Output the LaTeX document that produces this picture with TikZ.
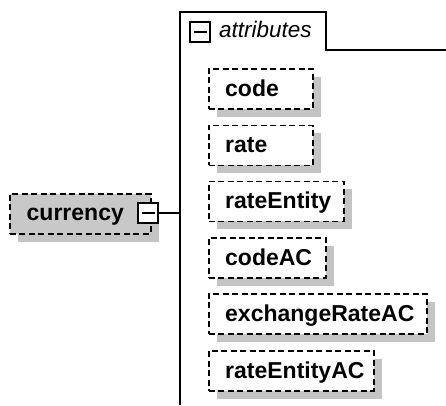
\documentclass[tikz,border=0pt]{standalone}
\usepackage{fontspec}
\setmainfont{Liberation Sans}
\usetikzlibrary{calc,shadows}
\definecolor{shgray}{RGB}{196,196,196}
\definecolor{boxgray}{RGB}{200,200,200}
\begin{document}
\begin{tikzpicture}[x=1pt,y=-1pt,
  dashbox/.style={draw=black, line width=1.9pt, dash pattern=on 6pt off 3.5pt,
    rectangle, inner sep=0pt, minimum height=40pt, anchor=north west, fill=white,
    general shadow={fill=shgray, shadow xshift=8pt, shadow yshift=-8pt}},
  lbl/.style={font=\fontsize{23}{27}\selectfont\bfseries, inner sep=0pt, anchor=base west},
  minusbox/.style={draw=black, fill=white, line width=1.7pt, rectangle, inner sep=0pt, minimum size=20pt},
  minussign/.style={line width=1.8pt},
  frameline/.style={line width=1.6pt}
]
\useasboundingbox (0,0) rectangle (446,405);

% attributes frame
\coordinate (fbot) at (180,405);
\coordinate (ftl) at (180,12);
\coordinate (ftr) at (326,12);
\coordinate (fbr) at (326,50);
\coordinate (fend) at (446,50);
\draw[frameline] (fbot) -- (ftl) -- (ftr) -- (fbr) -- (fend);
\node[minusbox] (am) at (200,32) {};
\draw[minussign] ($(am.center)+(-6.5,0)$) -- ($(am.center)+(6.5,0)$);
\node[font=\fontsize{22.5}{27}\selectfont\itshape, inner sep=0pt, anchor=base west] (attrt) at (219,37.5) {attributes};

% currency element
\node[dashbox, fill=boxgray, minimum width=141pt] (cur) at (9,193) {};
\node[lbl] (curt) at ($(cur.west)+(17.5,7)$) {currency};
\node[minusbox] (cm) at (148,213) {};
\draw[minussign] ($(cm.center)+(-6.5,0)$) -- ($(cm.center)+(6.5,0)$);
\coordinate (fj) at (180,213);
\draw[frameline] (cm.east) -- (fj);

% attribute boxes
\node[dashbox, minimum width=104pt] (code) at (208,68) {};
\node[lbl] (codet) at ($(code.west)+(17,7.5)$) {code};
\node[dashbox, minimum width=104pt] (rate) at (208,124.5) {};
\node[lbl] (ratet) at ($(rate.west)+(17,7.5)$) {rate};
\node[dashbox, minimum width=135pt] (rent) at (208,180.5) {};
\node[lbl] (rentt) at ($(rent.west)+(17,7.5)$) {rateEntity};
\node[dashbox, minimum width=117pt] (cac) at (208,237) {};
\node[lbl] (cact) at ($(cac.west)+(17,7.5)$) {codeAC};
\node[dashbox, minimum width=218pt] (erac) at (208,293) {};
\node[lbl] (eract) at ($(erac.west)+(17,7.5)$) {exchangeRateAC};
\node[dashbox, minimum width=165pt] (reac) at (208,350) {};
\node[lbl] (react) at ($(reac.west)+(17,7.5)$) {rateEntityAC};
\end{tikzpicture}
\end{document}
